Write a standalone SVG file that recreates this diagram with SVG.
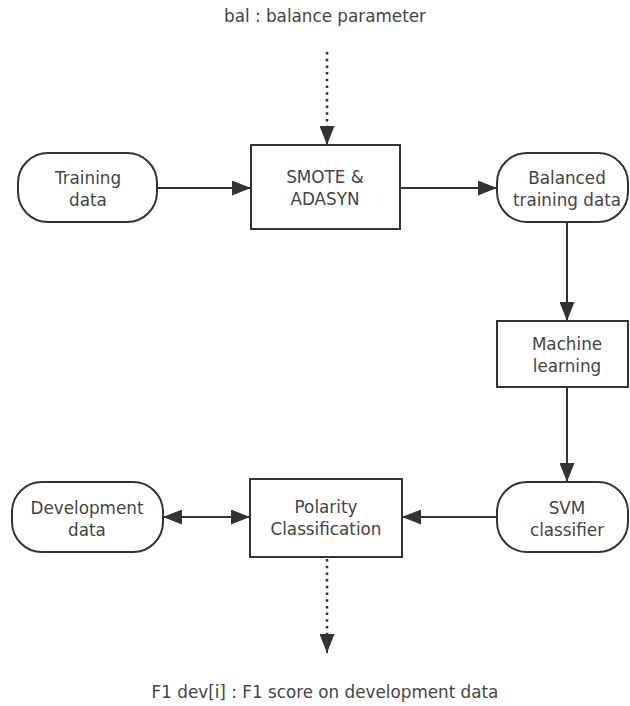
<svg xmlns="http://www.w3.org/2000/svg" width="630" height="706" viewBox="0 0 630 706">
  <style>
    .box { fill: #ffffff; stroke: #333333; stroke-width: 2; }
    .lbl { font-family: "DejaVu Sans", "Noto Sans", sans-serif; font-size: 16.8px; fill: #444444; text-anchor: middle; }
    .edge { fill: none; stroke: #333333; stroke-width: 2; }
    .dot { fill: none; stroke: #333333; stroke-width: 2.5; stroke-dasharray: 2.5 4.2; }
  </style>
  <defs>
    <marker id="head" viewBox="0 0 19 15" refX="19" refY="7.5" markerWidth="19" markerHeight="15" markerUnits="userSpaceOnUse" orient="auto-start-reverse">
      <path d="M0,0 L19,7.5 L0,15 Z" fill="#333333"/>
    </marker>
  </defs>
  <rect width="630" height="706" fill="#ffffff"/>

  <text class="lbl" x="325" y="22">bal : balance parameter</text>
  <text class="lbl" x="325" y="698">F1 dev[i] : F1 score on development data</text>

  <g id="connectors">
    <line class="dot" x1="327" y1="52" x2="327" y2="128"/>
    <line class="edge" x1="327" y1="126" x2="327" y2="145" marker-end="url(#head)"/>
    <line class="edge" x1="157" y1="188" x2="251" y2="188" marker-end="url(#head)"/>
    <line class="edge" x1="400" y1="188" x2="497" y2="188" marker-end="url(#head)"/>
    <line class="edge" x1="567" y1="222" x2="567" y2="321" marker-end="url(#head)"/>
    <line class="edge" x1="567" y1="387" x2="567" y2="482" marker-end="url(#head)"/>
    <line class="edge" x1="497" y1="517" x2="402" y2="517" marker-end="url(#head)"/>
    <line class="edge" x1="163" y1="517" x2="250" y2="517" marker-start="url(#head)" marker-end="url(#head)"/>
    <line class="dot" x1="327" y1="559" x2="327" y2="636"/>
    <line class="edge" x1="327" y1="634" x2="327" y2="653" marker-end="url(#head)"/>
  </g>

  <g id="training-data">
    <rect class="box" x="18" y="153" width="139" height="69" rx="30" ry="30"/>
    <text class="lbl" x="88" y="184">Training</text>
    <text class="lbl" x="88" y="206">data</text>
  </g>

  <g id="smote-adasyn">
    <rect class="box" x="251" y="145" width="149" height="84"/>
    <text class="lbl" x="325" y="183">SMOTE &amp;</text>
    <text class="lbl" x="325" y="205">ADASYN</text>
  </g>

  <g id="balanced-training-data">
    <rect class="box" x="497" y="153" width="131" height="69" rx="30" ry="30"/>
    <text class="lbl" x="567" y="184">Balanced</text>
    <text class="lbl" x="567" y="206">training data</text>
  </g>

  <g id="machine-learning">
    <rect class="box" x="497" y="321" width="131" height="66"/>
    <text class="lbl" x="567" y="350">Machine</text>
    <text class="lbl" x="567" y="372">learning</text>
  </g>

  <g id="svm-classifier">
    <rect class="box" x="497" y="482" width="131" height="70" rx="30" ry="30"/>
    <text class="lbl" x="567" y="514">SVM</text>
    <text class="lbl" x="567" y="536">classifier</text>
  </g>

  <g id="polarity-classification">
    <rect class="box" x="250" y="479" width="152" height="78"/>
    <text class="lbl" x="326" y="513">Polarity</text>
    <text class="lbl" x="326" y="535">Classification</text>
  </g>

  <g id="development-data">
    <rect class="box" x="12" y="482" width="151" height="70" rx="30" ry="30"/>
    <text class="lbl" x="87" y="514">Development</text>
    <text class="lbl" x="87" y="536">data</text>
  </g>
</svg>
